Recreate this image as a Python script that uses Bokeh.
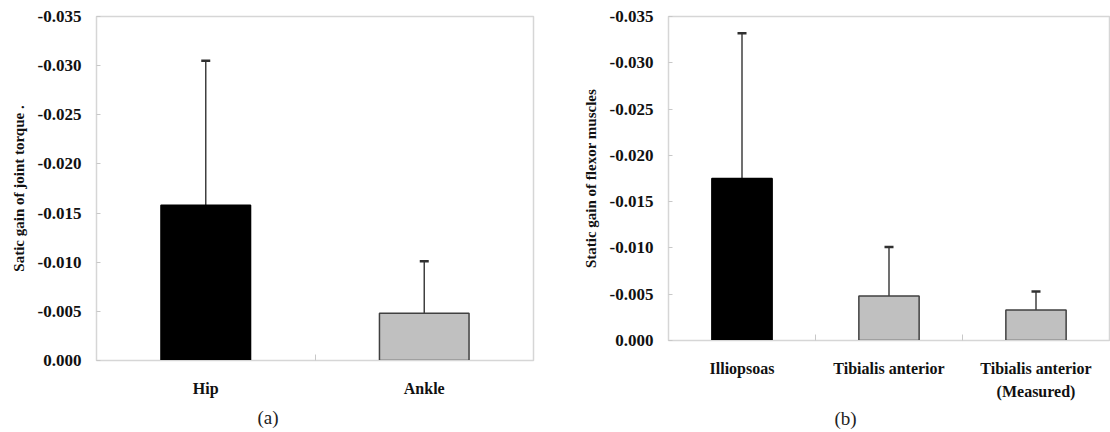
from bokeh.plotting import figure
from bokeh.layouts import row, column
from bokeh.models import (Range1d, FixedTicker, NumeralTickFormatter, ColumnDataSource,
                          Whisker, TeeHead, Title)
from bokeh.embed import file_html
from bokeh.resources import INLINE

# ---- data ----
left_categories = ["Hip", "Ankle"]
left_means = [-0.0158, -0.0048]
left_sd = [0.0147, 0.0053]
left_colors = ["#000000", "#c0c0c0"]

right_categories = ["Illiopsoas", "Tibialis anterior", "Tibialis anterior\n(Measured)"]
right_means = [-0.0175, -0.0048, -0.0033]
right_sd = [0.0157, 0.0053, 0.0020]
right_colors = ["#000000", "#c0c0c0", "#c0c0c0"]

y_ticks = [0.0, -0.005, -0.010, -0.015, -0.020, -0.025, -0.030, -0.035]

FONT = "Liberation Serif"


def make_panel(cats, means, sds, colors, ylabel, caption, width, border_left, border_right,
               border_bottom, cap_offset, cap_standoff):
    n = len(cats)
    xs = [i + 0.5 for i in range(n)]
    p = figure(width=width, height=432, output_backend="svg", toolbar_location=None,
               x_range=Range1d(0, n), y_range=Range1d(0, -0.035),
               min_border_left=border_left, min_border_right=border_right,
               min_border_top=16, min_border_bottom=border_bottom)
    p.xgrid.visible = False
    p.ygrid.visible = False
    p.outline_line_color = "#d6d6d6"
    p.outline_line_width = 1.5
    p.background_fill_color = "white"
    p.border_fill_color = "white"

    src = ColumnDataSource(dict(x=xs, top=means, color=colors,
                                line=["#000000" if c == "#000000" else "#404040" for c in colors],
                                upper=[m - s for m, s in zip(means, sds)]))
    p.vbar(x="x", top="top", bottom=0, width=0.41, source=src, fill_color="color",
           line_color="line", line_width=1.5)
    w = Whisker(base="x", lower="top", upper="upper", source=src, dimension="height",
                line_color="#404040", line_width=1.5,
                upper_head=TeeHead(size=9, line_color="#303030", line_width=2.5),
                lower_head=None)
    p.add_layout(w)

    # y axis
    ya = p.yaxis[0]
    ya.ticker = FixedTicker(ticks=y_ticks)
    ya.formatter = NumeralTickFormatter(format="0.000")
    ya.axis_line_color = "#d6d6d6"
    ya.major_tick_line_color = "#c8c8c8"
    ya.major_tick_in = 4
    ya.major_tick_out = 0
    ya.minor_tick_line_color = None
    ya.major_label_text_font = FONT
    ya.major_label_text_font_style = "bold"
    ya.major_label_text_font_size = "17px"
    ya.major_label_text_color = "#111111"
    ya.major_label_standoff = 15
    ya.axis_label = ylabel
    ya.axis_label_text_font = FONT
    ya.axis_label_text_font_style = "bold"
    ya.axis_label_text_font_size = "15px"
    ya.axis_label_text_color = "#111111"
    ya.axis_label_standoff = 8

    # x axis
    xa = p.xaxis[0]
    xa.ticker = FixedTicker(ticks=xs, minor_ticks=[i for i in range(1, n)])
    xa.major_label_overrides = {x: c for x, c in zip(xs, cats)}
    xa.axis_line_color = "#d6d6d6"
    xa.major_tick_line_color = None
    xa.major_tick_out = 0
    xa.major_tick_in = 0
    xa.minor_tick_line_color = "#c8c8c8"
    xa.minor_tick_in = 6
    xa.minor_tick_out = 0
    xa.major_label_text_font = FONT
    xa.major_label_text_font_style = "bold"
    xa.major_label_text_font_size = "16px"
    xa.major_label_text_color = "#111111"
    xa.major_label_text_line_height = 1.4
    xa.major_label_standoff = 19

    p.add_layout(Title(text=caption, align="left", offset=cap_offset, standoff=cap_standoff,
                       text_font=FONT, text_font_size="19px", text_font_style="normal",
                       text_color="#222222"), "below")
    return p


p1 = make_panel(left_categories, left_means, left_sd, left_colors,
                "Satic gain of joint torque .", "(a)", 555, 96, 22, 72, 161, 10)
p2 = make_panel(right_categories, right_means, right_sd, right_colors,
                "Static gain of flexor muscles", "(b)", 555, 113, 1, 92, 166, 5)

layout = row(column(p1), column(p2))
open("out.html", "w").write(file_html(layout, INLINE))
